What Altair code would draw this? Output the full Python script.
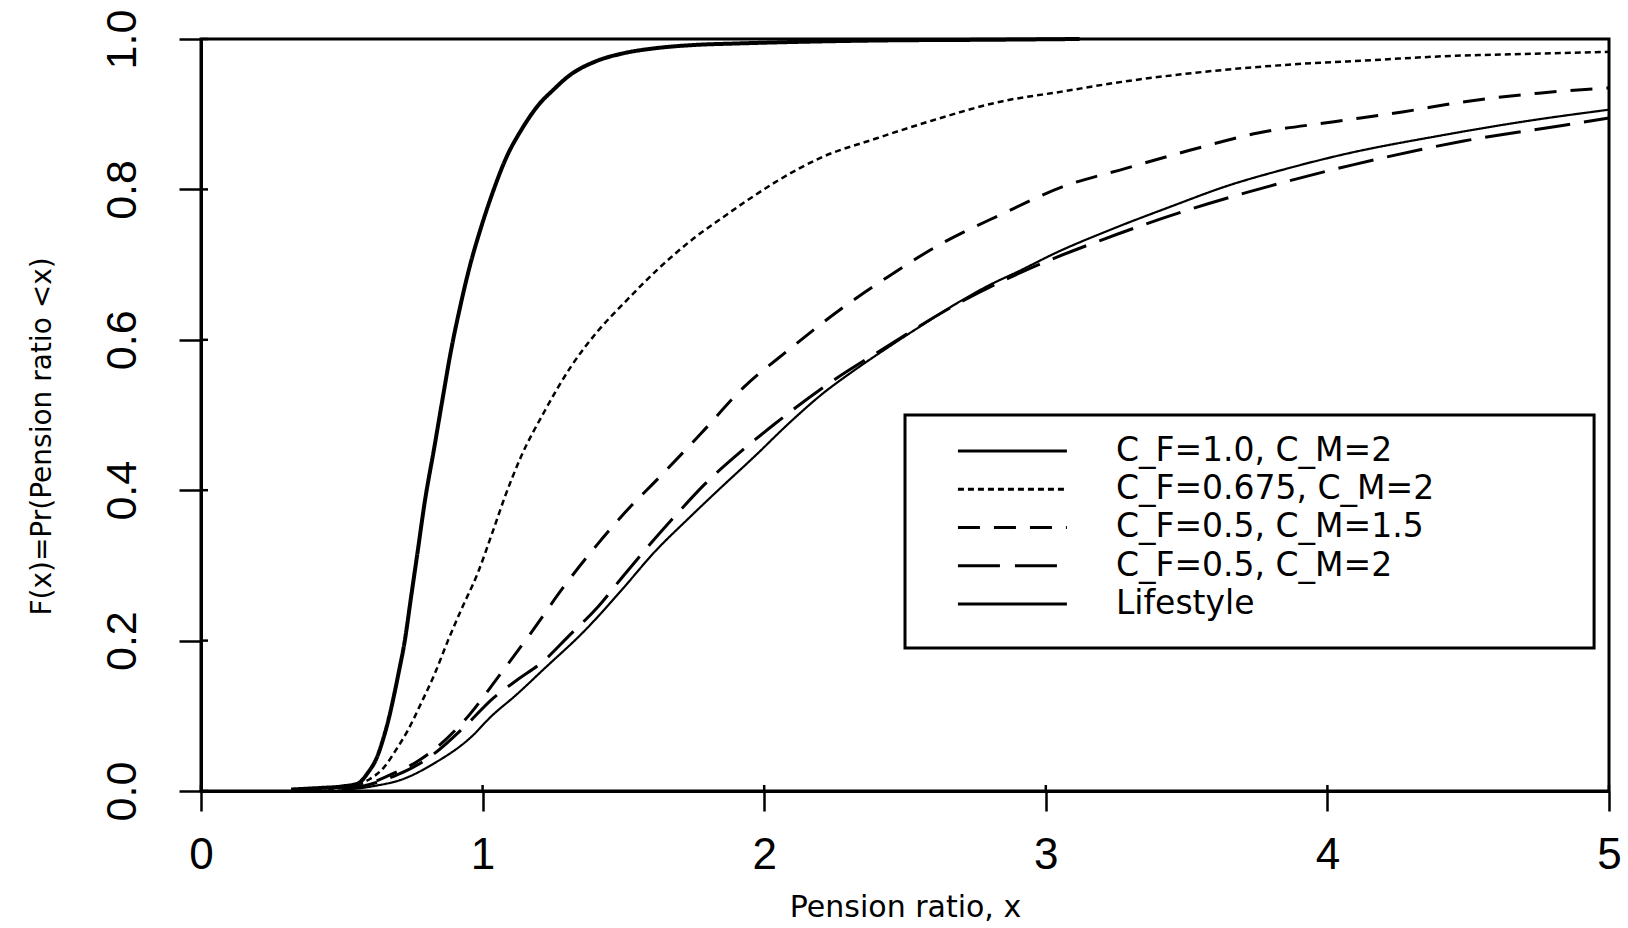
import altair as alt
import pandas as pd

# ---------------- data ----------------
SERIES = ["C_F=1.0, C_M=2", "C_F=0.675, C_M=2", "C_F=0.5, C_M=1.5",
          "C_F=0.5, C_M=2", "Lifestyle"]

X1 = [0.32, 0.42, 0.50, 0.557, 0.592, 0.625, 0.646, 0.668, 0.687, 0.705, 0.722,
      0.746, 0.770, 0.794, 0.829, 0.859, 0.888, 0.918, 0.954, 0.995, 1.035,
      1.085, 1.139, 1.20, 1.25, 1.31, 1.40, 1.50, 1.62, 1.75, 1.90, 2.10, 2.40,
      2.80, 3.12]
Y1 = [0.002, 0.004, 0.006, 0.010, 0.024, 0.045, 0.068, 0.098, 0.130, 0.163,
      0.196, 0.258, 0.320, 0.383, 0.458, 0.524, 0.586, 0.640, 0.697, 0.750,
      0.795, 0.843, 0.880, 0.913, 0.932, 0.952, 0.970, 0.981, 0.988, 0.992,
      0.994, 0.996, 0.998, 0.999, 1.0]

X2 = [0.45, 0.55, 0.60, 0.651, 0.693, 0.735, 0.782, 0.829, 0.877, 0.924, 0.983,
      1.036, 1.078, 1.137, 1.22, 1.315, 1.41, 1.50, 1.62, 1.75, 1.85, 1.95,
      2.05, 2.20, 2.40, 2.60, 2.843, 3.056, 3.27, 3.48, 3.694, 3.908, 4.165,
      4.408, 4.693, 5.0]
Y2 = [0.002, 0.008, 0.016, 0.032, 0.055, 0.081, 0.117, 0.155, 0.200, 0.241,
      0.290, 0.345, 0.390, 0.445, 0.505, 0.565, 0.612, 0.648, 0.693, 0.735,
      0.762, 0.788, 0.812, 0.842, 0.868, 0.892, 0.917, 0.930, 0.943, 0.953,
      0.961, 0.967, 0.972, 0.977, 0.980, 0.983]

X3 = [0.50, 0.57, 0.62, 0.687, 0.758, 0.85, 0.936, 1.066, 1.179, 1.285, 1.41,
      1.50, 1.635, 1.777, 1.925, 2.085, 2.251, 2.44, 2.63, 2.843, 3.056, 3.284,
      3.511, 3.753, 4.024, 4.266, 4.494, 4.75, 5.0]
Y3 = [0.002, 0.007, 0.013, 0.024, 0.037, 0.062, 0.094, 0.157, 0.214, 0.270,
      0.329, 0.368, 0.420, 0.476, 0.536, 0.586, 0.635, 0.684, 0.728, 0.767,
      0.803, 0.828, 0.852, 0.875, 0.890, 0.903, 0.917, 0.928, 0.935]

X4 = [0.50, 0.57, 0.62, 0.70, 0.80, 0.948, 1.03, 1.12, 1.22, 1.303, 1.41, 1.504,
      1.599, 1.694, 1.789, 1.919, 2.037, 2.203, 2.44, 2.677, 2.914, 3.20, 3.50,
      3.724, 4.094, 4.479, 4.835, 5.0]
Y4 = [0.002, 0.006, 0.011, 0.022, 0.042, 0.090, 0.121, 0.147, 0.174, 0.205,
      0.245, 0.288, 0.330, 0.370, 0.408, 0.452, 0.488, 0.535, 0.592, 0.646,
      0.690, 0.733, 0.772, 0.797, 0.833, 0.864, 0.885, 0.895]

X5 = [0.50, 0.57, 0.62, 0.711, 0.829, 0.96, 1.03, 1.12, 1.22, 1.362, 1.50,
      1.611, 1.73, 1.848, 1.966, 2.085, 2.203, 2.322, 2.44, 2.559, 2.677, 2.796,
      2.914, 3.032, 3.227, 3.45, 3.639, 3.85, 4.051, 4.408, 4.693, 5.0]
Y5 = [0.002, 0.004, 0.007, 0.015, 0.037, 0.072, 0.099, 0.128, 0.163, 0.213,
      0.270, 0.318, 0.362, 0.404, 0.445, 0.488, 0.527, 0.560, 0.590, 0.619,
      0.647, 0.672, 0.693, 0.715, 0.746, 0.778, 0.804, 0.827, 0.846, 0.872,
      0.890, 0.906]

XS = [X1, X2, X3, X4, X5]
YS = [Y1, Y2, Y3, Y4, Y5]

X_TICKS = [0, 1, 2, 3, 4, 5]
Y_TICKS = [0.0, 0.2, 0.4, 0.6, 0.8, 1.0]

X_TITLE = "Pension ratio, x"
Y_TITLE = "F(x)=Pr(Pension ratio <x)"

# ---------------- styles / layout ----------------
DASHES = [[1, 0], [6, 4], [22, 14], [36, 14], [1, 0]]
LEG_DASHES = [[1, 0], [6, 4], [22, 14], [42, 15], [1, 0]]
WIDTHS = [4.0, 2.5, 3.0, 3.0, 2.2]

W, H = 1408, 752
PAD = {"left": 201, "top": 39, "right": 19, "bottom": 137}

NARROW = "Liberation Sans Narrow, Liberation Sans, Arial, sans-serif"
WIDE = "DejaVu Sans, Verdana, sans-serif"

# legend layout (in data units of the plot)
LEG_BOX = (2.500, 4.947, 0.500, 0.190)
LEG_SAMPLE = (2.688, 3.075)
LEG_TEXT_X = 3.249
LEG_ROW0 = 0.452
LEG_STEP = 0.0508

xscale = alt.Scale(domain=[0, 5], nice=False, zero=False)
yscale = alt.Scale(domain=[0, 1], nice=False, zero=False)

x_axis = alt.Axis(values=X_TICKS, format="d", tickSize=20, tickWidth=2.5,
                  labelFontSize=44, labelFont=NARROW, labelPadding=22,
                  labelFlush=False, labelOverlap=False,
                  titleFont=WIDE, titleFontSize=30, titleFontWeight="normal",
                  titleBaseline="alphabetic", titleY=125)
y_axis = alt.Axis(values=Y_TICKS, format=".1f", tickSize=22, tickWidth=2.5,
                  labelFontSize=43, labelFont=NARROW, labelAngle=270,
                  labelAlign="center", labelBaseline="alphabetic",
                  labelPadding=44, labelFlush=False, labelOverlap=False,
                  titleFont=WIDE, titleFontSize=28, titleFontWeight="normal",
                  titleAngle=270, titleAlign="center", titleBaseline="middle",
                  titleX=-159, titleY=397)

layers = []
for i, name in enumerate(SERIES):
    df = pd.DataFrame({"x": XS[i], "y": YS[i], "series": name})
    if i == 0:
        enc_x = alt.X("x:Q", scale=xscale, axis=x_axis, title=X_TITLE)
        enc_y = alt.Y("y:Q", scale=yscale, axis=y_axis, title=Y_TITLE)
    else:
        enc_x = alt.X("x:Q", scale=xscale)
        enc_y = alt.Y("y:Q", scale=yscale)
    layers.append(
        alt.Chart(df).mark_line(color="black", interpolate="monotone",
                                strokeDash=DASHES[i], strokeWidth=WIDTHS[i],
                                strokeCap="butt")
        .encode(x=enc_x, y=enc_y)
    )

# inner parts of the crossing tick marks
xt = pd.DataFrame({"x": X_TICKS})
layers.append(alt.Chart(xt).mark_rule(color="black", strokeWidth=2.5).encode(
    x=alt.X("x:Q", scale=xscale), y=alt.value(H - 6), y2=alt.value(H)))
yt = pd.DataFrame({"y": Y_TICKS})
layers.append(alt.Chart(yt).mark_rule(color="black", strokeWidth=2.5).encode(
    y=alt.Y("y:Q", scale=yscale), x=alt.value(0), x2=alt.value(7)))

# legend box
box = pd.DataFrame({"x": [LEG_BOX[0]], "x2": [LEG_BOX[1]],
                    "y": [LEG_BOX[2]], "y2": [LEG_BOX[3]]})
layers.append(alt.Chart(box).mark_rect(fill="white", stroke="black",
                                       strokeWidth=3).encode(
    x=alt.X("x:Q", scale=xscale), x2="x2:Q",
    y=alt.Y("y:Q", scale=yscale), y2="y2:Q"))

for i, name in enumerate(SERIES):
    ly = LEG_ROW0 - i * LEG_STEP
    row = pd.DataFrame({"x": [LEG_SAMPLE[0]], "x2": [LEG_SAMPLE[1]],
                        "y": [ly], "tx": [LEG_TEXT_X], "label": [name]})
    layers.append(alt.Chart(row).mark_rule(color="black",
                                           strokeDash=LEG_DASHES[i],
                                           strokeWidth=3.0,
                                           strokeCap="butt").encode(
        x=alt.X("x:Q", scale=xscale), x2="x2:Q",
        y=alt.Y("y:Q", scale=yscale)))
    layers.append(alt.Chart(row).mark_text(align="left", baseline="middle",
                                           font=WIDE, fontSize=33,
                                           color="black").encode(
        x=alt.X("tx:Q", scale=xscale), y=alt.Y("y:Q", scale=yscale),
        text="label:N"))

chart = alt.layer(*layers).properties(
    width=W, height=H, padding=PAD,
    autosize=alt.AutoSizeParams(type="none"),
    background="white",
).configure_view(stroke="black", strokeWidth=3).configure_axis(
    grid=False, domainColor="black", domainWidth=3, tickColor="black",
    labelColor="black", titleColor="black")

chart.save("out.html", embed_options={"renderer": "svg", "actions": False})
